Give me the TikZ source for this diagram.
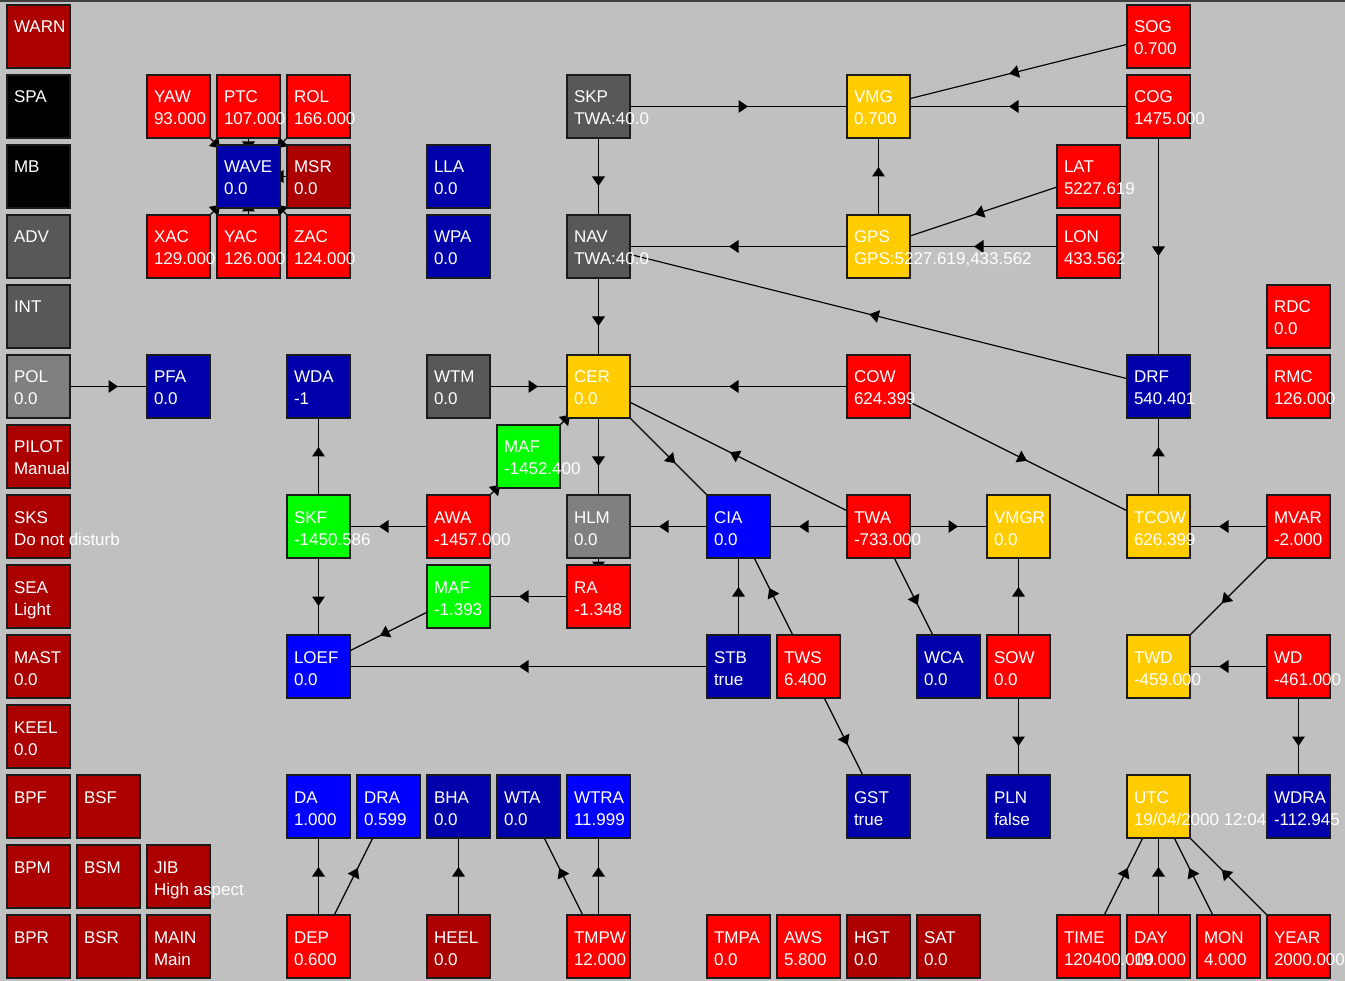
\documentclass[tikz,border=0pt]{standalone}
\usepackage{fontspec}
\setmainfont{Liberation Sans}
\usetikzlibrary{decorations.markings}

\definecolor{panel}{HTML}{C0C0C0}
\definecolor{cred}{HTML}{FF0000}
\definecolor{cdred}{HTML}{AC0000}
\definecolor{cnavy}{HTML}{0000AA}
\definecolor{cblue}{HTML}{0000FF}
\definecolor{cgreen}{HTML}{00FF00}
\definecolor{camber}{HTML}{FFCC00}
\definecolor{cdgray}{HTML}{585858}
\definecolor{cmgray}{HTML}{808080}
\definecolor{cblack}{HTML}{000000}
\definecolor{boxline}{HTML}{1A1A1A}

\pgfdeclarelayer{back}
\pgfdeclarelayer{wires}
\pgfsetlayers{back,wires,main}

\tikzset{
  cellbox/.style={rectangle, draw=boxline, line width=1.2pt, minimum width=63pt,
    minimum height=63pt, inner sep=0pt, outer sep=0pt},
  lbl/.style={anchor=base west, inner sep=0pt, outer sep=0pt, text=white,
    font=\fontsize{17pt}{20pt}\selectfont},
  conn/.style={draw=black, line width=1.2pt, postaction={decorate},
    decoration={markings, mark=at position 0.5 with
      {\fill[black] (9.5pt,0pt) -- (0pt,6.5pt) -- (0pt,-6.5pt) -- cycle;}}}
}

% a cell of the grid: name, column, row, fill colour
\newcommand\cell[4]{\node[cellbox, fill=#4] (#1) at ({38.5+70*#2},{36.5+70*#3}) {};}
% caption only
\newcommand\capone[2]{\node[lbl] (#1-t) at ([shift={(7,28)}]#1.north west) {#2};}
% caption and value
\newcommand\captwo[3]{\node[lbl] (#1-t) at ([shift={(7,28)}]#1.north west) {#2};
  \node[lbl] (#1-v) at ([shift={(7,50)}]#1.north west) {#3};}

\begin{document}
\begin{tikzpicture}[x=1pt, y=-1pt]
\useasboundingbox (0,0) rectangle (1345,981);
\begin{pgfonlayer}{back}
  \fill[panel] (0,0) rectangle (1345,981);
  \draw[line width=2.5pt, black!75] (0,1.2) -- (1345,1.2);
\end{pgfonlayer}

% ---- cells ----
\cell{WARN}{0}{0}{cdred}
\cell{SPA}{0}{1}{cblack}
\cell{MB}{0}{2}{cblack}
\cell{ADV}{0}{3}{cdgray}
\cell{INT}{0}{4}{cdgray}
\cell{POL}{0}{5}{cmgray}
\cell{PILOT}{0}{6}{cdred}
\cell{SKS}{0}{7}{cdred}
\cell{SEA}{0}{8}{cdred}
\cell{MAST}{0}{9}{cdred}
\cell{KEEL}{0}{10}{cdred}
\cell{BPF}{0}{11}{cdred}
\cell{BPM}{0}{12}{cdred}
\cell{BPR}{0}{13}{cdred}
\cell{BSF}{1}{11}{cdred}
\cell{BSM}{1}{12}{cdred}
\cell{BSR}{1}{13}{cdred}
\cell{YAW}{2}{1}{cred}
\cell{XAC}{2}{3}{cred}
\cell{PFA}{2}{5}{cnavy}
\cell{JIB}{2}{12}{cdred}
\cell{MAIN}{2}{13}{cdred}
\cell{PTC}{3}{1}{cred}
\cell{WAVE}{3}{2}{cnavy}
\cell{YAC}{3}{3}{cred}
\cell{ROL}{4}{1}{cred}
\cell{MSR}{4}{2}{cdred}
\cell{ZAC}{4}{3}{cred}
\cell{WDA}{4}{5}{cnavy}
\cell{SKF}{4}{7}{cgreen}
\cell{LOEF}{4}{9}{cblue}
\cell{DA}{4}{11}{cblue}
\cell{DEP}{4}{13}{cred}
\cell{DRA}{5}{11}{cblue}
\cell{LLA}{6}{2}{cnavy}
\cell{WPA}{6}{3}{cnavy}
\cell{WTM}{6}{5}{cdgray}
\cell{AWA}{6}{7}{cred}
\cell{MAFb}{6}{8}{cgreen}
\cell{BHA}{6}{11}{cnavy}
\cell{HEEL}{6}{13}{cdred}
\cell{MAFa}{7}{6}{cgreen}
\cell{WTA}{7}{11}{cnavy}
\cell{SKP}{8}{1}{cdgray}
\cell{NAV}{8}{3}{cdgray}
\cell{CER}{8}{5}{camber}
\cell{HLM}{8}{7}{cmgray}
\cell{RA}{8}{8}{cred}
\cell{WTRA}{8}{11}{cblue}
\cell{TMPW}{8}{13}{cred}
\cell{CIA}{10}{7}{cblue}
\cell{STB}{10}{9}{cnavy}
\cell{TMPA}{10}{13}{cred}
\cell{TWS}{11}{9}{cred}
\cell{AWS}{11}{13}{cred}
\cell{VMG}{12}{1}{camber}
\cell{GPS}{12}{3}{camber}
\cell{COW}{12}{5}{cred}
\cell{TWA}{12}{7}{cred}
\cell{GST}{12}{11}{cnavy}
\cell{HGT}{12}{13}{cdred}
\cell{WCA}{13}{9}{cnavy}
\cell{SAT}{13}{13}{cdred}
\cell{VMGR}{14}{7}{camber}
\cell{SOW}{14}{9}{cred}
\cell{PLN}{14}{11}{cnavy}
\cell{LAT}{15}{2}{cred}
\cell{LON}{15}{3}{cred}
\cell{TIME}{15}{13}{cred}
\cell{SOG}{16}{0}{cred}
\cell{COG}{16}{1}{cred}
\cell{DRF}{16}{5}{cnavy}
\cell{TCOW}{16}{7}{camber}
\cell{TWD}{16}{9}{camber}
\cell{UTC}{16}{11}{camber}
\cell{DAY}{16}{13}{cred}
\cell{MON}{17}{13}{cred}
\cell{RDC}{18}{4}{cred}
\cell{RMC}{18}{5}{cred}
\cell{MVAR}{18}{7}{cred}
\cell{WD}{18}{9}{cred}
\cell{WDRA}{18}{11}{cnavy}
\cell{YEAR}{18}{13}{cred}

% ---- connectors (centre to centre, under the cells) ----
\begin{pgfonlayer}{wires}
\draw[conn] (POL.center) -- (PFA.center);
\draw[conn] (YAW.center) -- (WAVE.center);
\draw[conn] (PTC.center) -- (WAVE.center);
\draw[conn] (ROL.center) -- (WAVE.center);
\draw[conn] (MSR.center) -- (WAVE.center);
\draw[conn] (XAC.center) -- (WAVE.center);
\draw[conn] (YAC.center) -- (WAVE.center);
\draw[conn] (ZAC.center) -- (WAVE.center);
\draw[conn] (SKP.center) -- (VMG.center);
\draw[conn] (SKP.center) -- (NAV.center);
\draw[conn] (GPS.center) -- (NAV.center);
\draw[conn] (GPS.center) -- (VMG.center);
\draw[conn] (SOG.center) -- (VMG.center);
\draw[conn] (COG.center) -- (VMG.center);
\draw[conn] (LAT.center) -- (GPS.center);
\draw[conn] (LON.center) -- (GPS.center);
\draw[conn] (COG.center) -- (DRF.center);
\draw[conn] (DRF.center) -- (NAV.center);
\draw[conn] (NAV.center) -- (CER.center);
\draw[conn] (WTM.center) -- (CER.center);
\draw[conn] (COW.center) -- (CER.center);
\draw[conn] (CER.center) -- (HLM.center);
\draw[conn] (MAFa.center) -- (CER.center);
\draw[conn] (AWA.center) -- (MAFa.center);
\draw[conn] (TWA.center) -- (CER.center);
\draw[conn] (CER.center) -- (CIA.center);
\draw[conn] (TWA.center) -- (CIA.center);
\draw[conn] (CIA.center) -- (HLM.center);
\draw[conn] (TWA.center) -- (VMGR.center);
\draw[conn] (AWA.center) -- (SKF.center);
\draw[conn] (SKF.center) -- (WDA.center);
\draw[conn] (SKF.center) -- (LOEF.center);
\draw[conn] (HLM.center) -- (RA.center);
\draw[conn] (RA.center) -- (MAFb.center);
\draw[conn] (MAFb.center) -- (LOEF.center);
\draw[conn] (STB.center) -- (LOEF.center);
\draw[conn] (STB.center) -- (CIA.center);
\draw[conn] (TWS.center) -- (CIA.center);
\draw[conn] (TWS.center) -- (GST.center);
\draw[conn] (TWA.center) -- (WCA.center);
\draw[conn] (SOW.center) -- (VMGR.center);
\draw[conn] (SOW.center) -- (PLN.center);
\draw[conn] (COW.center) -- (TCOW.center);
\draw[conn] (TCOW.center) -- (DRF.center);
\draw[conn] (MVAR.center) -- (TCOW.center);
\draw[conn] (MVAR.center) -- (TWD.center);
\draw[conn] (WD.center) -- (TWD.center);
\draw[conn] (WD.center) -- (WDRA.center);
\draw[conn] (DEP.center) -- (DA.center);
\draw[conn] (DEP.center) -- (DRA.center);
\draw[conn] (HEEL.center) -- (BHA.center);
\draw[conn] (TMPW.center) -- (WTA.center);
\draw[conn] (TMPW.center) -- (WTRA.center);
\draw[conn] (TIME.center) -- (UTC.center);
\draw[conn] (DAY.center) -- (UTC.center);
\draw[conn] (MON.center) -- (UTC.center);
\draw[conn] (YEAR.center) -- (UTC.center);
\end{pgfonlayer}

% ---- captions and values ----
\capone{WARN}{WARN}
\capone{SPA}{SPA}
\capone{MB}{MB}
\capone{ADV}{ADV}
\capone{INT}{INT}
\captwo{POL}{POL}{0.0}
\captwo{PILOT}{PILOT}{Manual}
\captwo{SKS}{SKS}{Do not disturb}
\captwo{SEA}{SEA}{Light}
\captwo{MAST}{MAST}{0.0}
\captwo{KEEL}{KEEL}{0.0}
\capone{BPF}{BPF}
\capone{BPM}{BPM}
\capone{BPR}{BPR}
\capone{BSF}{BSF}
\capone{BSM}{BSM}
\capone{BSR}{BSR}
\captwo{YAW}{YAW}{93.000}
\captwo{XAC}{XAC}{129.000}
\captwo{PFA}{PFA}{0.0}
\captwo{JIB}{JIB}{High aspect}
\captwo{MAIN}{MAIN}{Main}
\captwo{PTC}{PTC}{107.000}
\captwo{WAVE}{WAVE}{0.0}
\captwo{YAC}{YAC}{126.000}
\captwo{ROL}{ROL}{166.000}
\captwo{MSR}{MSR}{0.0}
\captwo{ZAC}{ZAC}{124.000}
\captwo{WDA}{WDA}{-1}
\captwo{SKF}{SKF}{-1450.586}
\captwo{LOEF}{LOEF}{0.0}
\captwo{DA}{DA}{1.000}
\captwo{DEP}{DEP}{0.600}
\captwo{DRA}{DRA}{0.599}
\captwo{LLA}{LLA}{0.0}
\captwo{WPA}{WPA}{0.0}
\captwo{WTM}{WTM}{0.0}
\captwo{AWA}{AWA}{-1457.000}
\captwo{MAFb}{MAF}{-1.393}
\captwo{BHA}{BHA}{0.0}
\captwo{HEEL}{HEEL}{0.0}
\captwo{MAFa}{MAF}{-1452.400}
\captwo{WTA}{WTA}{0.0}
\captwo{SKP}{SKP}{TWA:40.0}
\captwo{NAV}{NAV}{TWA:40.0}
\captwo{CER}{CER}{0.0}
\captwo{HLM}{HLM}{0.0}
\captwo{RA}{RA}{-1.348}
\captwo{WTRA}{WTRA}{11.999}
\captwo{TMPW}{TMPW}{12.000}
\captwo{CIA}{CIA}{0.0}
\captwo{STB}{STB}{true}
\captwo{TMPA}{TMPA}{0.0}
\captwo{TWS}{TWS}{6.400}
\captwo{AWS}{AWS}{5.800}
\captwo{VMG}{VMG}{0.700}
\captwo{GPS}{GPS}{GPS:5227.619,433.562}
\captwo{COW}{COW}{624.399}
\captwo{TWA}{TWA}{-733.000}
\captwo{GST}{GST}{true}
\captwo{HGT}{HGT}{0.0}
\captwo{WCA}{WCA}{0.0}
\captwo{SAT}{SAT}{0.0}
\captwo{VMGR}{VMGR}{0.0}
\captwo{SOW}{SOW}{0.0}
\captwo{PLN}{PLN}{false}
\captwo{LAT}{LAT}{5227.619}
\captwo{LON}{LON}{433.562}
\captwo{TIME}{TIME}{120400.000}
\captwo{SOG}{SOG}{0.700}
\captwo{COG}{COG}{1475.000}
\captwo{DRF}{DRF}{540.401}
\captwo{TCOW}{TCOW}{626.399}
\captwo{TWD}{TWD}{-459.000}
\begin{scope}
  % the date string runs under the neighbouring cell
  \clip (0,0) rectangle (1266.5,981);
  \captwo{UTC}{UTC}{19/04/2000 12:04:00}
\end{scope}
\captwo{DAY}{DAY}{19.000}
\captwo{MON}{MON}{4.000}
\captwo{RDC}{RDC}{0.0}
\captwo{RMC}{RMC}{126.000}
\captwo{MVAR}{MVAR}{-2.000}
\captwo{WD}{WD}{-461.000}
\captwo{WDRA}{WDRA}{-112.945}
\captwo{YEAR}{YEAR}{2000.000}
\end{tikzpicture}
\end{document}
